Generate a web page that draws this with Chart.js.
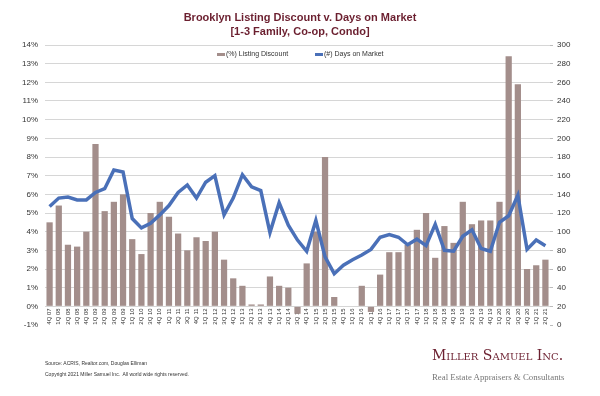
<!DOCTYPE html>
<html>
<head>
<meta charset="utf-8">
<script src="https://cdn.jsdelivr.net/npm/chart.js@4"></script>
<style>
  body { margin: 0; background: #fff; font-family: Arial, "Liberation Sans", sans-serif; }
  #wrap { position: relative; width: 600px; height: 396px; }
  #title { position: absolute; left: 0; top: 10px; width: 600px; text-align: center;
           color: #6b1f2f; font-weight: bold; font-size: 11px; line-height: 14px; }
  .leg { position: absolute; top: 50px; font-size: 7px; color: #333; white-space: nowrap; }
  .leg i { display: inline-block; width: 8px; vertical-align: middle; margin-right: 1px; }
  .foot { position: absolute; left: 45px; font-size: 5px; color: #333; white-space: nowrap; }
  #logo { position: absolute; left: 432px; top: 347px; font-family: "DejaVu Serif", "Liberation Serif", serif;
          font-variant: small-caps; font-size: 14px; color: #6b1f2f; white-space: nowrap; }
  #tag { position: absolute; left: 432px; top: 372px; font-family: "Liberation Serif", serif;
         font-size: 8.8px; color: #777; white-space: nowrap; }
</style>
</head>
<body>
<div id="wrap">
  <canvas id="c" width="600" height="396"></canvas>
  <div id="title">Brooklyn Listing Discount v. Days on Market<br>[1-3 Family, Co-op, Condo]</div>
  <div class="leg" style="left:217px"><i style="height:3px;background:#a38e8b"></i>(%) Listing Discount</div>
  <div class="leg" style="left:315px"><i style="height:3px;background:#4a70b8"></i>(#) Days on Market</div>
  <div class="foot" style="top:360px">Source: ACRIS, Realtor.com, Douglas Elliman</div>
  <div class="foot" style="top:371px">Copyright 2021 Miller Samuel Inc.&nbsp; All world wide rights reserved.</div>
  <div id="logo">Miller Samuel Inc.</div>
  <div id="tag">Real Estate Appraisers &amp; Consultants</div>
</div>
<script>
// quarters 4Q 07 .. 2Q 21
const quarters = [
  '4Q 07',
  '1Q 08','2Q 08','3Q 08','4Q 08',
  '1Q 09','2Q 09','3Q 09','4Q 09',
  '1Q 10','2Q 10','3Q 10','4Q 10',
  '1Q 11','2Q 11','3Q 11','4Q 11',
  '1Q 12','2Q 12','3Q 12','4Q 12',
  '1Q 13','2Q 13','3Q 13','4Q 13',
  '1Q 14','2Q 14','3Q 14','4Q 14',
  '1Q 15','2Q 15','3Q 15','4Q 15',
  '1Q 16','2Q 16','3Q 16','4Q 16',
  '1Q 17','2Q 17','3Q 17','4Q 17',
  '1Q 18','2Q 18','3Q 18','4Q 18',
  '1Q 19','2Q 19','3Q 19','4Q 19',
  '1Q 20','2Q 20','3Q 20','4Q 20',
  '1Q 21','2Q 21'
];

// (%) Listing Discount
const listingDiscount = [
  4.5,
  5.4, 3.3, 3.2, 4.0,
  8.7, 5.1, 5.6, 6.0,
  3.6, 2.8, 5.0, 5.6,
  4.8, 3.9, 3.0, 3.7,
  3.5, 4.0, 2.5, 1.5,
  1.1, 0.1, 0.1, 1.6,
  1.1, 1.0, -0.4, 2.3,
  4.0, 8.0, 0.5, 0,
  0, 1.1, -0.3, 1.7,
  2.9, 2.9, 3.3, 4.1,
  5.0, 2.6, 4.3, 3.4,
  5.6, 4.4, 4.6, 4.6,
  5.6, 13.4, 11.9, 2.0,
  2.2, 2.5
];

// (#) Days on Market
const daysOnMarket = [
  127,
  136, 137, 134, 134,
  142, 146, 166, 164,
  114, 104, 109, 118,
  128, 142, 150, 136,
  153, 160, 118, 136,
  161, 148, 144, 99,
  131, 107, 91, 79,
  112, 73, 55, 64,
  70, 75, 81, 94,
  97, 94, 86, 92,
  85, 108, 80, 79,
  95, 102, 82, 79,
  110, 117, 139, 81,
  91, 85
];

const pctTicks = { min: -1, max: 14, step: 1 };
const dayTicks = { min: 0, max: 300, step: 20 };

const axisFont = { family: 'Arial, "Liberation Sans", sans-serif', size: 8 };

// category labels sit just under the 0% line, like Excel's crossing axis
const labelsAtZero = {
  id: 'labelsAtZero',
  afterLayout(chart) {
    const x = chart.scales.x;
    x.top = chart.scales.yPct.getPixelForValue(0) + 2;
  }
};

new Chart(document.getElementById('c'), {
  data: {
    labels: quarters,
    datasets: [
      {
        type: 'line',
        label: '(#) Days on Market',
        data: daysOnMarket,
        yAxisID: 'yDays',
        borderColor: '#4a70b8',
        borderWidth: 3.5,
        pointRadius: 0,
        tension: 0,
        order: 0
      },
      {
        type: 'bar',
        label: '(%) Listing Discount',
        data: listingDiscount,
        yAxisID: 'yPct',
        backgroundColor: '#a38e8b',
        barPercentage: 0.68,
        categoryPercentage: 1,
        order: 1
      }
    ]
  },
  plugins: [labelsAtZero],
  options: {
    responsive: false,
    animation: false,
    layout: { padding: { top: 45, left: 0, right: 0, bottom: 0 } },
    plugins: { legend: { display: false }, tooltip: { enabled: false } },
    scales: {
      x: {
        grid: { display: false, drawTicks: false },
        border: { display: false },
        ticks: {
          autoSkip: false, minRotation: 90, maxRotation: 90, padding: 0,
          color: '#333', font: { family: axisFont.family, size: 6 }
        },
        afterFit: s => { s.height = 71; }
      },
      yPct: {
        position: 'left',
        min: pctTicks.min, max: pctTicks.max,
        grid: {
          color: c => c.tick && c.tick.value === pctTicks.min ? 'rgba(0,0,0,0)' : '#d6d6d6',
          lineWidth: 1, drawTicks: false
        },
        border: { display: false },
        ticks: {
          stepSize: pctTicks.step, padding: 7, color: '#333', font: axisFont,
          callback: v => v + '%'
        },
        afterFit: s => { s.width = 45; }
      },
      yDays: {
        position: 'right',
        min: dayTicks.min, max: dayTicks.max,
        grid: { drawOnChartArea: false, tickLength: 3, color: '#bbb' },
        border: { display: false },
        ticks: { stepSize: dayTicks.step, padding: 4, color: '#333', font: axisFont },
        afterFit: s => { s.width = 50; }
      }
    }
  }
});
</script>
</body>
</html>
